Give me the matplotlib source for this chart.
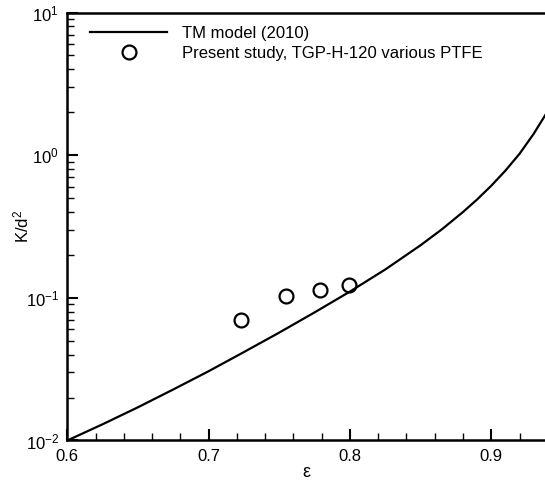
import matplotlib
matplotlib.use('Agg')
import matplotlib.pyplot as plt
from matplotlib.ticker import MultipleLocator, LogLocator

plt.rcParams['font.family'] = ['Liberation Sans', 'DejaVu Sans']
plt.rcParams['mathtext.default'] = 'regular'
plt.rcParams['mathtext.fontset'] = 'custom'
plt.rcParams['mathtext.rm'] = 'Liberation Sans'

# TM model (2010) curve
tm_eps = [0.600, 0.625, 0.650, 0.675, 0.700, 0.725, 0.750, 0.775,
          0.800, 0.825, 0.850, 0.865, 0.880, 0.890, 0.900, 0.910,
          0.920, 0.930, 0.940]
tm_k = [0.0100, 0.0130, 0.0171, 0.0228, 0.0306, 0.0417, 0.0571, 0.0791,
        0.1107, 0.1581, 0.2339, 0.3020, 0.3999, 0.4898, 0.6109, 0.7798,
        1.0233, 1.4125, 2.0417]

# present study, TGP-H-120 various PTFE
exp_eps = [0.723, 0.755, 0.779, 0.799]
exp_k = [0.0695, 0.1025, 0.1130, 0.1225]

fig = plt.figure(figsize=(5.45, 4.82), dpi=100)
ax = fig.add_axes([0.1235, 0.0861, 0.8765, 0.8879])

ax.plot(tm_eps, tm_k, color='black', lw=1.6, label='TM model (2010)')
ax.plot(exp_eps, exp_k, 'o', ms=10, mfc='none', mec='black', mew=1.6,
        label='Present study, TGP-H-120 various PTFE')

ax.set_yscale('log')
ax.set_xlim(0.6, 0.938)
ax.set_ylim(1e-2, 1e1)
ax.xaxis.set_major_locator(MultipleLocator(0.1))
ax.xaxis.set_minor_locator(MultipleLocator(0.02))
ax.yaxis.set_major_locator(LogLocator(base=10))
ax.yaxis.set_minor_locator(LogLocator(base=10, subs=range(2, 10)))
ax.tick_params(which='both', direction='in', top=False, right=False, labelsize=12)
ax.tick_params(which='major', length=8, width=1.5, pad=6)
ax.tick_params(which='minor', length=5, width=1)

for s in ['left', 'bottom', 'top']:
    ax.spines[s].set_linewidth(1.8)
ax.spines['right'].set_visible(False)

ax.set_xlabel('ε', fontsize=13, labelpad=0)
ax.set_ylabel('K/d$^2$', fontsize=12)
ax.yaxis.set_label_coords(-0.076, 0.5)

ax.legend(loc='upper left', frameon=False, fontsize=12, handlelength=4.6,
          handletextpad=0.9, borderaxespad=0.4, labelspacing=0.3,
          bbox_to_anchor=(0.02, 1.0))

fig.savefig('out.png', dpi=100)
